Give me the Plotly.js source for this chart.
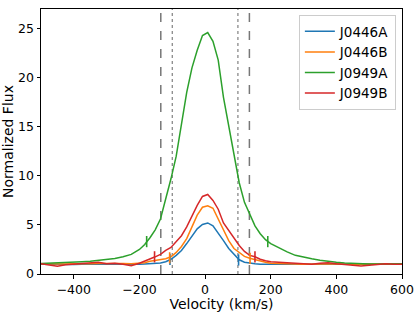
<!DOCTYPE html>
<html>
<head>
<meta charset="utf-8">
<script src="https://cdn.plot.ly/plotly-3.0.1.min.js"></script>
<style>html,body{margin:0;padding:0;background:#fff;}#chart{width:415px;height:312px;}</style>
</head>
<body>
<div id="chart"></div>
<script>
// Velocity grid (km/s)
const velocity = [-500,-475,-450,-425,-400,-375,-350,-325,-300,-275,-250,-225,-200,
  -184,-168,-152,-136,-120,-104,-88,-72,-56,-40,-24,-8,8,24,40,56,72,88,104,120,136,152,168,184,
  200,225,250,275,300,325,350,375,400,425,450,475,500,525,550,575,600];

const seriesNames = ["J0446A","J0446B","J0949A","J0949B"];

const fluxJ0446A = [1.0,0.98,0.97,0.98,0.98,1.0,0.98,1.0,1.0,1.0,0.98,0.98,1.0,
  1.03,1.06,1.08,1.12,1.25,1.5,1.9,2.4,3.1,3.9,4.6,5.05,5.2,4.9,4.2,3.4,2.6,2.0,1.45,1.2,1.1,1.05,1.0,1.0,
  0.98,0.97,0.96,0.96,0.95,0.96,0.97,0.96,0.97,0.98,0.97,0.98,0.99,0.98,0.99,1.0,1.0];

const fluxJ0446B = [1.05,1.02,1.0,1.03,1.05,1.03,1.05,1.08,1.05,1.05,1.06,1.05,1.08,
  1.15,1.3,1.4,1.5,1.55,1.75,2.2,2.8,3.6,4.8,6.0,6.8,6.95,6.7,5.6,4.4,3.4,2.6,2.2,1.8,1.6,1.45,1.3,1.2,
  1.1,1.05,1.03,1.02,1.0,1.02,1.0,1.03,1.05,1.0,0.98,1.0,1.02,1.0,1.02,1.03,1.03];

const fluxJ0949A = [1.08,1.1,1.12,1.15,1.2,1.25,1.3,1.38,1.45,1.58,1.75,2.0,2.5,
  3.0,3.7,4.5,5.6,7.6,9.7,12.0,15.5,18.5,21.0,22.8,24.3,24.6,23.7,21.8,18.0,15.0,12.4,9.3,7.3,6.0,4.9,4.1,3.5,
  3.1,2.65,2.25,1.9,1.7,1.55,1.4,1.28,1.2,1.12,1.07,1.03,1.02,1.03,1.05,1.05,1.05];

const fluxJ0949B = [1.05,0.95,0.78,0.95,1.0,1.05,1.1,1.2,1.05,1.1,1.0,0.85,1.1,
  1.3,1.5,1.75,2.0,2.4,2.7,3.3,3.9,4.8,5.9,7.0,7.9,8.1,7.5,6.6,5.2,4.4,3.6,2.9,2.3,1.9,1.75,1.5,1.35,
  1.25,1.2,1.15,1.1,1.05,1.0,1.1,1.15,1.05,0.95,0.85,0.82,0.9,1.0,1.05,1.0,1.0];

// Small vertical tick marks on each curve (velocity, flux)
const markV_J0446A = [-107, 102];
const markF_J0446A = [1.5, 1.43];
const markV_J0446B = [-108, 137];
const markF_J0446B = [1.65, 1.6];
const markV_J0949A = [-178, 191];
const markF_J0949A = [3.3, 3.3];
const markV_J0949B = [-154, 152];
const markF_J0949B = [1.75, 1.75];

// Reference velocity lines
const dashedLines = [-135, 135];
const dottedLines = [-100, 100];

const colors = ["#1f77b4","#ff7f0e","#2ca02c","#d62728"];
const fluxes = [fluxJ0446A, fluxJ0446B, fluxJ0949A, fluxJ0949B];
const marksV = [markV_J0446A, markV_J0446B, markV_J0949A, markV_J0949B];
const marksF = [markF_J0446A, markF_J0446B, markF_J0949A, markF_J0949B];

const traces = [];
for (let i = 0; i < 4; i++) {
  traces.push({
    x: velocity, y: fluxes[i], type: "scatter", mode: "lines",
    name: seriesNames[i], line: {color: colors[i], width: 1.5}
  });
}
for (let i = 0; i < 4; i++) {
  traces.push({
    x: marksV[i], y: marksF[i], type: "scatter", mode: "markers", showlegend: false,
    hoverinfo: "skip",
    marker: {symbol: "line-ns", size: 8, color: colors[i], opacity: 1, line: {color: colors[i], width: 1.6}}
  });
}

const shapes = [];
dashedLines.forEach(v => shapes.push({type: "line", xref: "x", yref: "paper", x0: v, x1: v, y0: 0, y1: 1,
  line: {color: "#777777", width: 1.5, dash: "dash"}, layer: "below"}));
dottedLines.forEach(v => shapes.push({type: "line", xref: "x", yref: "paper", x0: v, x1: v, y0: 0, y1: 1,
  line: {color: "#808080", width: 1.2, dash: "dot"}, layer: "below"}));

const font = {family: "DejaVu Sans, sans-serif", color: "#000"};

const layout = {
  width: 415, height: 312,
  margin: {l: 41, r: 13, t: 9, b: 38, pad: 0},
  paper_bgcolor: "#fff", plot_bgcolor: "#fff",
  font: {family: font.family, size: 12.5, color: "#000"},
  showlegend: true,
  legend: {x: 0.983, y: 0.977, xanchor: "right", yanchor: "top",
    bgcolor: "rgba(255,255,255,0.8)", bordercolor: "#cccccc", borderwidth: 1,
    tracegroupgap: 0,
    font: {family: font.family, size: 13.5, color: "#000"}},
  xaxis: {
    range: [-500, 600], tickvals: [-400,-200,0,200,400,600],
    ticktext: ["\u2212400","\u2212200","0","200","400","600"],
    ticks: "outside", ticklen: 3.5, tickwidth: 1, tickcolor: "#000",
    showline: true, linecolor: "#000", linewidth: 1, mirror: true,
    showgrid: false, zeroline: false,
    tickfont: {family: font.family, size: 12.5, color: "#000"},
    title: {text: "Velocity (km/s)", font: {family: font.family, size: 14, color: "#000"}, standoff: 7}
  },
  yaxis: {
    range: [0, 27], tickvals: [0,5,10,15,20,25],
    ticks: "outside", ticklen: 3.5, tickwidth: 1, tickcolor: "#000",
    showline: true, linecolor: "#000", linewidth: 1, mirror: true,
    showgrid: false, zeroline: false,
    tickfont: {family: font.family, size: 12.5, color: "#000"},
    title: {text: "Normalized Flux", font: {family: font.family, size: 14, color: "#000"}, standoff: 9}
  },
  shapes: shapes
};

Plotly.newPlot("chart", traces, layout, {staticPlot: true, displayModeBar: false});
</script>
</body>
</html>
